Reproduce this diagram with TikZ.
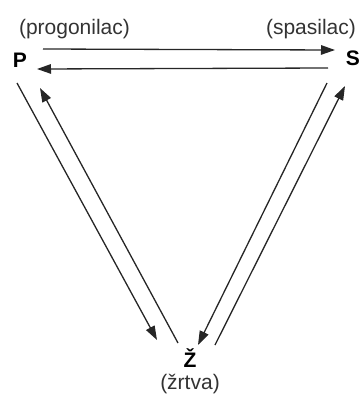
\documentclass[tikz,border=0pt]{standalone}
\usepackage{fontspec}
\setmainfont{Liberation Sans}
\newfontfamily\heavyfont{Liberation Sans}[UprightFont=*-Bold]
\usetikzlibrary{arrows.meta}
\begin{document}
\begin{tikzpicture}[x=1pt,y=-1pt,
  conn/.style={line width=1.3pt,black!85,-{Triangle[length=14pt,width=9.5pt]}},
  vertex/.style={inner sep=0pt,anchor=base,font=\heavyfont\fontsize{21pt}{24pt}\selectfont},
  role/.style={font=\fontsize{21pt}{25pt}\selectfont,text=black!80,inner sep=0pt,anchor=base}]
\useasboundingbox (0,0) rectangle (363,405);
\node[vertex] (P) at (20,67) {P};
\node[vertex] (S) at (353,65) {S};
\node[vertex] (Z) at (190,367) {Ž};
\node[role] (pl) at (74.5,34) {(progonilac)};
\node[role] (sl) at (311,34) {(spasilac)};
\node[role] (zl) at (190,389) {(žrtva)};
\coordinate (t1a) at (43,49);  \coordinate (t1b) at (335,50);
\coordinate (t2a) at (328,68); \coordinate (t2b) at (37,69);
\coordinate (l1a) at (17,83);  \coordinate (l1b) at (157,340);
\coordinate (l2a) at (178,343);\coordinate (l2b) at (40,88);
\coordinate (r1a) at (327,83); \coordinate (r1b) at (198,345);
\coordinate (r2a) at (215,345);\coordinate (r2b) at (345,86);
\draw[conn] (t1a) -- (t1b);
\draw[conn] (t2a) -- (t2b);
\draw[conn] (l1a) -- (l1b);
\draw[conn] (l2a) -- (l2b);
\draw[conn] (r1a) -- (r1b);
\draw[conn] (r2a) -- (r2b);
\end{tikzpicture}
\end{document}
